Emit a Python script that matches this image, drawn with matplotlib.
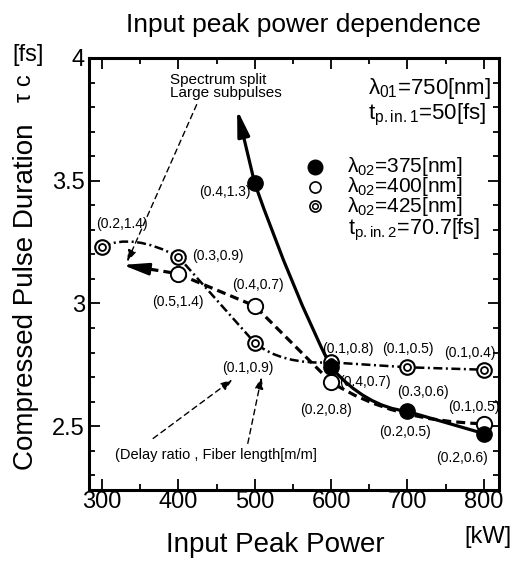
import matplotlib
matplotlib.use("Agg")
import matplotlib.pyplot as plt
from matplotlib.path import Path
from matplotlib.patches import PathPatch
from matplotlib.ticker import MultipleLocator

plt.rcParams['font.family'] = ['Liberation Sans', 'DejaVu Sans']
plt.rcParams['mathtext.fontset'] = 'custom'
plt.rcParams['mathtext.rm'] = 'Liberation Sans'
plt.rcParams['mathtext.it'] = 'Liberation Sans:italic'
plt.rcParams['mathtext.default'] = 'regular'

# input peak power [kW] and compressed pulse duration [fs]
x_375 = [500, 600, 700, 800]
y_375 = [3.49, 2.74, 2.56, 2.47]
x_400 = [400, 500, 600, 800]
y_400 = [3.12, 2.99, 2.68, 2.51]
x_425 = [300, 400, 500, 600, 700, 800]
y_425 = [3.23, 3.19, 2.84, 2.76, 2.74, 2.73]

# bend of each drawn curve segment (quadratic control point, None = straight)
bend_375 = [(550, 3.05), (645, 2.58), None]
bend_400 = [None, None, (680, 2.52)]
bend_425 = [(340, 3.29), None, (535, 2.75), None, None]

# (delay ratio, fiber length) labels: text, x, y
pt_labels = ["(0.4,1.3)", "(0.2,1.4)", "(0.3,0.9)", "(0.5,1.4)", "(0.4,0.7)",
             "(0.1,0.9)", "(0.1,0.8)", "(0.4,0.7)", "(0.2,0.8)", "(0.1,0.5)",
             "(0.1,0.4)", "(0.3,0.6)", "(0.1,0.5)", "(0.2,0.5)", "(0.2,0.6)"]
pt_label_x = [461, 326, 452, 399, 504, 491, 622, 644, 594, 700, 782, 720, 787, 697, 772]
pt_label_y = [3.454, 3.324, 3.193, 3.006, 3.075, 2.737, 2.815, 2.68, 2.566,
              2.815, 2.80, 2.64, 2.58, 2.477, 2.37]

x_ticks = [300, 400, 500, 600, 700, 800]
y_ticks = [2.5, 3, 3.5, 4]
y_tick_labels = ['2.5', '3', '3.5', '4']
lambda_02 = [375, 400, 425]


def curve(ax, xs, ys, bends, **kw):
    verts = [(xs[0], ys[0])]
    codes = [Path.MOVETO]
    for i, b in enumerate(bends):
        if b is None:
            verts.append((xs[i + 1], ys[i + 1]))
            codes.append(Path.LINETO)
        else:
            verts += [b, (xs[i + 1], ys[i + 1])]
            codes += [Path.CURVE3, Path.CURVE3]
    ax.add_patch(PathPatch(Path(verts, codes), fill=False, **kw))


fig = plt.figure(figsize=(5.14, 5.62), dpi=100)
ax = fig.add_axes([89 / 514, 1 - 490 / 562, 410 / 514, 432 / 562])
ax.set_xlim(283, 820)
ax.set_ylim(2.24, 4.0)

# lines
curve(ax, x_375, y_375, bend_375, lw=2.3, ec='black', zorder=2)
curve(ax, x_400, y_400, bend_400, lw=2.3, ec='black', ls=(0, (2.8, 1.6)), zorder=2)
curve(ax, x_425, y_425, bend_425, lw=1.8, ec='black', ls=(0, (3.6, 1.4, 0.8, 1.4)), zorder=2)

# arrow heads on the curves
ax.annotate('', xy=(477, 3.79), xytext=(x_375[0], y_375[0]),
            arrowprops=dict(arrowstyle='-|>,head_length=1.3,head_width=0.3',
                            lw=2.3, color='black', mutation_scale=12, shrinkA=0, shrinkB=0),
            zorder=2)
ax.plot([x_400[0] - 8, 352], [y_400[0] + 0.005, 3.145], color='black', lw=2.3,
        dashes=(2.8, 1.6), zorder=2)
ax.annotate('', xy=(327, 3.157), xytext=(354, 3.144),
            arrowprops=dict(arrowstyle='-|>,head_length=1.3,head_width=0.3',
                            lw=2.0, color='black', mutation_scale=12, shrinkA=0, shrinkB=0),
            zorder=2)

# markers
ax.plot(x_400, y_400, 'o', ms=11, mfc='white', mec='black', mew=1.4, zorder=3)
ax.plot(x_425, y_425, 'o', ms=10.5, mfc='white', mec='black', mew=1.5, zorder=4)
ax.plot(x_425, y_425, 'o', ms=5, mfc='white', mec='black', mew=1.3, zorder=4)
ax.plot(x_375, y_375, 'o', ms=11, mfc='black', mec='black', zorder=5)

for t, x, y in zip(pt_labels, pt_label_x, pt_label_y):
    ax.text(x, y, t, fontsize=10, ha='center', va='center', zorder=6)

# thin dashed pointer arrows
thin = dict(arrowstyle='-|>,head_length=0.7,head_width=0.25', lw=1.0, color='black',
            ls=(0, (4, 3)), mutation_scale=10, shrinkA=0, shrinkB=0)
ax.annotate('', xy=(333, 3.17), xytext=(424, 3.81), arrowprops=thin)
ax.annotate('', xy=(471, 2.69), xytext=(367, 2.45), arrowprops=thin)
ax.annotate('', xy=(509, 2.70), xytext=(491, 2.43), arrowprops=thin)

ax.text(389, 3.94, "Spectrum split\nLarge subpulses", fontsize=11, ha='left', va='top',
        linespacing=0.95)
ax.text(317, 2.383, "(Delay ratio , Fiber length[m/m]", fontsize=10.5, ha='left', va='center')

# parameter block
ax.text(648, 3.875, r'λ$_{01}$=750[nm]', fontsize=16, ha='left', va='center')
ax.text(648, 3.77, r't$_{p.in.1}$=50[fs]', fontsize=16, ha='left', va='center')
ax.plot([579], [3.556], 'o', ms=10.5, mfc='black', mec='black')
ax.plot([579], [3.475], 'o', ms=8, mfc='white', mec='black', mew=1.2)
ax.plot([579], [3.397], 'o', ms=8, mfc='white', mec='black', mew=1.2)
ax.plot([579], [3.397], 'o', ms=4, mfc='white', mec='black', mew=1.1)
ax.text(621, 3.477, '\n'.join(r'λ$_{02}$=%d[nm]' % w for w in lambda_02),
        fontsize=15, ha='left', va='center', linespacing=0.82)
ax.text(622, 3.30, r't$_{p.in.2}$=70.7[fs]', fontsize=15.5, ha='left', va='center')

# axes styling
ax.set_xticks(x_ticks)
ax.set_yticks(y_ticks)
ax.set_yticklabels(y_tick_labels)
ax.xaxis.set_minor_locator(MultipleLocator(50))
ax.yaxis.set_minor_locator(MultipleLocator(0.1))
ax.tick_params(which='both', direction='in', top=True, right=True, labelsize=17, width=1.3)
ax.tick_params(which='major', length=8)
ax.tick_params(which='minor', length=4)
ax.tick_params(axis='x', pad=1)
ax.tick_params(axis='y', pad=3)
for s in ax.spines.values():
    s.set_linewidth(2.2)

fig.text(303 / 514, 1 - 25 / 562, 'Input peak power dependence', fontsize=19,
         ha='center', va='center')
fig.text(26 / 514, 1 - 297 / 562, 'Compressed Pulse Duration', fontsize=20,
         rotation=90, ha='center', va='center')
fig.text(25 / 514, 1 - 88 / 562, 'τ c', fontsize=17, rotation=90, ha='center', va='center')
fig.text(28 / 514, 1 - 55 / 562, '[fs]', fontsize=17, ha='center', va='center')
fig.text(275 / 514, 1 - 545 / 562, 'Input Peak Power', fontsize=20, ha='center', va='center')
fig.text(488 / 514, 1 - 537 / 562, '[kW]', fontsize=17, ha='center', va='center')

fig.savefig('out.png', dpi=100)
